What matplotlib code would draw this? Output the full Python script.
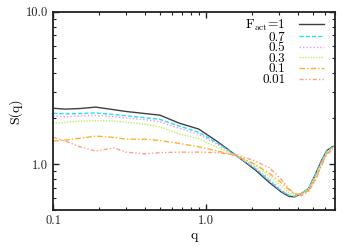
import matplotlib
matplotlib.use("Agg")
import matplotlib.pyplot as plt
from matplotlib.ticker import FixedLocator, FixedFormatter, NullFormatter

plt.rcParams['font.family'] = ['cmr10', 'DejaVu Serif']
plt.rcParams['mathtext.fontset'] = 'cm'
plt.rcParams['axes.formatter.use_mathtext'] = True

# wave vector
q = [0.1, 0.12, 0.15, 0.19, 0.25, 0.3, 0.4, 0.5, 0.67, 0.9, 1.2, 1.6,
     2.1, 2.6, 3.1, 3.5, 3.8, 4.2, 4.7, 5.2, 5.7, 6.2, 6.8]

# structure factor for each active fraction
s_1 = [2.33, 2.30, 2.32, 2.37, 2.28, 2.22, 2.15, 2.10, 1.86, 1.70, 1.40, 1.13,
       0.92, 0.76, 0.66, 0.615, 0.61, 0.64, 0.69, 0.85, 1.05, 1.23, 1.31]
s_07 = [2.16, 2.14, 2.15, 2.17, 2.12, 2.08, 2.02, 1.97, 1.78, 1.62, 1.37, 1.13,
        0.94, 0.78, 0.67, 0.625, 0.615, 0.64, 0.69, 0.84, 1.04, 1.22, 1.30]
s_05 = [2.07, 2.05, 2.07, 2.09, 2.05, 2.01, 1.96, 1.90, 1.72, 1.57, 1.34, 1.13,
        0.95, 0.80, 0.68, 0.63, 0.62, 0.64, 0.69, 0.83, 1.03, 1.21, 1.29]
s_03 = [1.86, 1.88, 1.92, 1.93, 1.92, 1.89, 1.83, 1.76, 1.58, 1.47, 1.29, 1.13,
        0.98, 0.84, 0.72, 0.65, 0.625, 0.64, 0.69, 0.82, 1.01, 1.20, 1.28]
s_01 = [1.42, 1.44, 1.48, 1.53, 1.50, 1.46, 1.46, 1.43, 1.37, 1.30, 1.22, 1.13,
        1.00, 0.87, 0.76, 0.68, 0.64, 0.63, 0.67, 0.79, 0.98, 1.17, 1.26]
s_001 = [1.50, 1.42, 1.30, 1.22, 1.28, 1.20, 1.17, 1.19, 1.20, 1.20, 1.19, 1.15,
         1.05, 0.95, 0.80, 0.69, 0.64, 0.62, 0.66, 0.78, 0.97, 1.16, 1.25]

labels = [r'$\mathrm{F_{act}}$=1', '0.7', '0.5', '0.3', '0.1', '0.01']
series = [s_1, s_07, s_05, s_03, s_01, s_001]
colors = ['#404040', '#20e4f0', '#f090f0', '#b8f060', '#ffb030', '#ffa080']
styles = ['-', (0, (3, 1.5)), (0, (1, 1.5)), (0, (1, 1)),
          (0, (4, 1.5, 1, 1.5)), (0, (3, 1.5, 1, 1.5, 1, 1.5))]

fig = plt.figure(figsize=(3.54, 2.48), dpi=100)
ax = fig.add_axes([0.150, 0.153, 0.796, 0.799])

for s, lab, c, ls in zip(series, labels, colors, styles):
    ax.plot(q, s, color=c, linestyle=ls, linewidth=1.0, label=lab)

ax.set_xscale('log')
ax.set_yscale('log')
ax.set_xlim(0.1, 7.0)
ax.set_ylim(0.5, 10.0)

ax.xaxis.set_major_locator(FixedLocator([0.1, 1.0]))
ax.xaxis.set_major_formatter(FixedFormatter(['0.1', '1.0']))
ax.xaxis.set_minor_locator(FixedLocator([0.2, 0.3, 0.4, 0.5, 0.6, 0.7, 0.8, 0.9,
                                         2, 3, 4, 5, 6, 7]))
ax.xaxis.set_minor_formatter(NullFormatter())
ax.yaxis.set_major_locator(FixedLocator([1.0, 10.0]))
ax.yaxis.set_major_formatter(FixedFormatter(['1.0', '10.0']))
ax.yaxis.set_minor_locator(FixedLocator([0.5, 0.6, 0.7, 0.8, 0.9,
                                         2, 3, 4, 5, 6, 7, 8, 9]))
ax.yaxis.set_minor_formatter(NullFormatter())

ax.tick_params(which='both', direction='in', top=True, right=True,
               labelsize=9, colors='#222222')
ax.tick_params(which='major', length=4, width=1.0)
ax.tick_params(which='minor', length=2.5, width=0.8)
for sp in ax.spines.values():
    sp.set_linewidth(1.3)
    sp.set_color('#222222')

ax.set_xlabel('q', fontsize=10, labelpad=2)
ax.set_ylabel('S(q)', fontsize=10, labelpad=3)

ax.legend(loc='upper right', bbox_to_anchor=(0.98, 1.0), frameon=False,
          markerfirst=False, fontsize=9.5, handlelength=1.9, handletextpad=1.0,
          labelspacing=-0.12, borderaxespad=0.0, borderpad=0.43)

fig.savefig('out.png', dpi=100)
